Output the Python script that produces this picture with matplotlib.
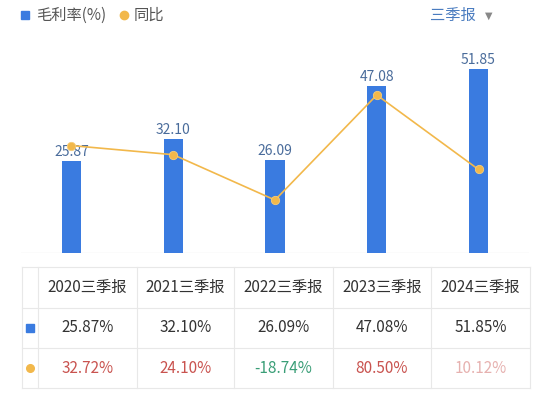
import matplotlib
matplotlib.use('Agg')
import matplotlib.pyplot as plt

plt.rcParams['font.family'] = ['Noto Sans CJK SC', 'DejaVu Sans']

# data
periods = ['2020三季报', '2021三季报', '2022三季报', '2023三季报', '2024三季报']
gross_margin = [25.87, 32.10, 26.09, 47.08, 51.85]   # 毛利率(%)
yoy = [32.72, 24.10, -18.74, 80.50, 10.12]           # 同比(%)

BAR_BLUE = '#3A7BE0'
LINE_GOLD = '#F2B84B'
LABEL_BLUE = '#4A6C9B'
RED = '#C9534F'
GREEN = '#3A9E77'
GRID = '#E8E8E8'

W, H = 552, 396
fig = plt.figure(figsize=(W / 100, H / 100), dpi=100, facecolor='white')


def px_axes(left, top, right, bottom):
    return fig.add_axes([left / W, 1 - bottom / H, (right - left) / W, (bottom - top) / H])


# overlay in pixel coordinates for legend and table
ov = fig.add_axes([0, 0, 1, 1])
ov.set_xlim(0, W)
ov.set_ylim(H, 0)
ov.axis('off')

# legend row
ov.plot([24.5], [14.5], marker='s', ms=6, color=BAR_BLUE, ls='none')
ov.text(36, 15, '毛利率(%)', fontsize=11, color='#555555', va='center', ha='left')
ov.plot([124], [14.5], marker='o', ms=6, color=LINE_GOLD, ls='none')
ov.text(134, 15, '同比', fontsize=11, color='#555555', va='center', ha='left')
ov.text(476, 15, '三季报', fontsize=11, color='#4A7CC0', va='center', ha='right')
ov.text(489, 15.5, '▼', fontsize=7, color='#888888', va='center', ha='center', family='DejaVu Sans')

# chart
ax = px_axes(20.6, 55, 529.4, 252.7)
x = range(len(periods))
ax.bar(x, gross_margin, width=0.187, color=BAR_BLUE, zorder=2)
for i, v in zip(x, gross_margin):
    ax.annotate(f'{v:.2f}', xy=(i, v), xytext=(0, 1.5), textcoords='offset points',
                ha='center', va='bottom', fontsize=10, fontweight='medium',
                color=LABEL_BLUE, zorder=3)
ax.axhline(0, color='#EEEEEE', lw=1, zorder=1)
ax.set_xlim(-0.5, 4.5)
ax.set_ylim(0, 55.9)
ax.axis('off')

ax2 = ax.twinx()
ax2.plot(x, yoy, color=LINE_GOLD, lw=1.2, marker='o', ms=6,
         markerfacecolor=LINE_GOLD, markeredgecolor='#F6CD7A', markeredgewidth=0.6)
ax2.set_ylim(-68.5, 118.3)
ax2.axis('off')

# table
col_x = [21.7, 38, 137, 234, 333, 431, 530]
row_y = [267.3, 307.7, 348.3, 388]
for cx in col_x:
    ov.plot([cx, cx], [row_y[0], row_y[-1]], color=GRID, lw=0.8)
for ry in row_y:
    ov.plot([col_x[0], col_x[-1]], [ry, ry], color=GRID, lw=0.8)

row_mid = [(row_y[k] + row_y[k + 1]) / 2 for k in range(3)]
ov.plot([29.5], [row_mid[1]], marker='s', ms=5.5, color=BAR_BLUE, ls='none')
ov.plot([29.5], [row_mid[2]], marker='o', ms=5.5, color=LINE_GOLD, ls='none')

for k, (p, g, y) in enumerate(zip(periods, gross_margin, yoy)):
    cx = (col_x[k + 1] + col_x[k + 2]) / 2
    ov.text(cx, row_mid[0], p, ha='center', va='center', fontsize=11,
            fontweight='medium', color='#333333')
    ov.text(cx, row_mid[1], f'{g:.2f}%', ha='center', va='center', fontsize=11,
            fontweight='medium', color='#333333')
    c = RED if y >= 0 else GREEN
    a = 0.45 if k == len(periods) - 1 else 1.0
    ov.text(cx, row_mid[2], f'{y:.2f}%', ha='center', va='center', fontsize=11,
            fontweight='medium', color=c, alpha=a)

fig.savefig('out.png', dpi=100, facecolor='white')
